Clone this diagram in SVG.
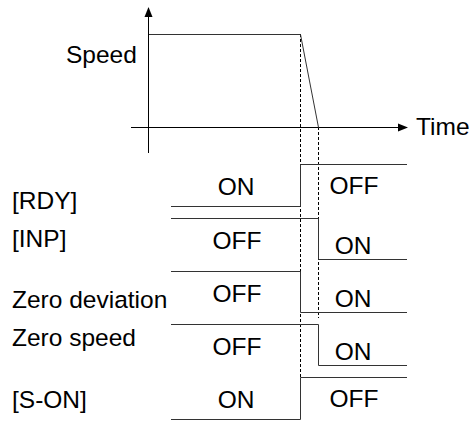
<svg xmlns="http://www.w3.org/2000/svg" width="470" height="421" viewBox="0 0 470 421">
<defs>
<marker id="arr" markerWidth="10" markerHeight="10" refX="9" refY="5" orient="auto" markerUnits="userSpaceOnUse">
<path d="M0,1 L10,5 L0,9 Z" fill="#000"/>
</marker>
<style>
.ln{fill:none;stroke:#333;stroke-width:1}
.ax{fill:none;stroke:#000;stroke-width:1}
.dash{fill:none;stroke:#000;stroke-width:1;stroke-dasharray:3,2}
text{font-family:"Liberation Sans",Arial,sans-serif;font-size:24.5px;fill:#000}
.c{text-anchor:middle}
</style>
</defs>
<rect width="470" height="421" fill="#fff"/>
<g id="connectors">
<line class="ax" x1="148.5" y1="153" x2="148.5" y2="8" marker-end="url(#arr)"/>
<line class="ax" x1="131" y1="127.5" x2="407" y2="127.5" marker-end="url(#arr)"/>
<line class="dash" x1="300.5" y1="34" x2="300.5" y2="377"/>
<line class="dash" x1="318.5" y1="127" x2="318.5" y2="318"/>
</g>
<g id="speed">
<polyline class="ln" points="149,34.5 300.5,34.5 318.5,127.5"/>
<text x="66" y="63">Speed</text>
<text x="416" y="135">Time</text>
</g>
<g id="rdy">
<polyline class="ln" points="171,206.5 300.5,206.5 300.5,164.5 407,164.5"/>
<text x="12" y="209">[RDY]</text>
<text class="c" x="236" y="195">ON</text>
<text class="c" x="354" y="194">OFF</text>
</g>
<g id="inp">
<polyline class="ln" points="171,218.5 318.5,218.5 318.5,259.5 407,259.5"/>
<text x="12" y="247">[INP]</text>
<text class="c" x="237" y="249">OFF</text>
<text class="c" x="353" y="254">ON</text>
</g>
<g id="zerodev">
<polyline class="ln" points="171,271.5 300.5,271.5 300.5,312.5 407,312.5"/>
<text x="12" y="308">Zero deviation</text>
<text class="c" x="237" y="302">OFF</text>
<text class="c" x="353" y="307">ON</text>
</g>
<g id="zerospeed">
<polyline class="ln" points="171,324.5 318.5,324.5 318.5,365.5 407,365.5"/>
<text x="12" y="346">Zero speed</text>
<text class="c" x="237" y="355">OFF</text>
<text class="c" x="353" y="360">ON</text>
</g>
<g id="son">
<polyline class="ln" points="171,419.5 300.5,419.5 300.5,377.5 407,377.5"/>
<text x="12" y="408">[S-ON]</text>
<text class="c" x="236" y="408">ON</text>
<text class="c" x="354" y="407">OFF</text>
</g>
</svg>
